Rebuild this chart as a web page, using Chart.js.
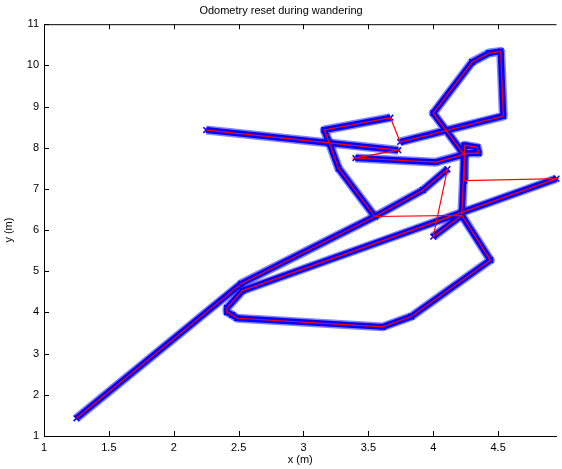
<!DOCTYPE html>
<html>
<head>
<meta charset="utf-8">
<script src="https://cdn.jsdelivr.net/npm/chart.js@4"></script>
<style>
  body { margin: 0; background: #fff; }
</style>
</head>
<body>
<canvas id="myChart" width="562" height="469"></canvas>
<script>
// robot path, in metres, in the order it was logged
const pathX = [1.25, 2.52, 3.55, 3.92, 4.11, 4.00, 4.22, 4.24, 4.00, 4.30, 4.43, 4.52, 4.54, 3.745,
  3.67, 3.16, 3.20, 3.27, 3.55, 4.22, 4.44, 3.83, 3.61, 2.49, 2.45, 2.41, 2.41, 2.53, 4.95,
  4.24, 4.24, 4.34, 4.35, 4.28, 4.22, 4.02, 3.40, 3.73, 2.25];
const pathY = [1.43, 4.70, 6.33, 6.97, 7.48, 5.84, 6.36, 7.82, 8.84, 10.08, 10.30, 10.34, 8.77, 8.14,
  8.73, 8.43, 8.11, 7.50, 6.33, 6.36, 5.27, 3.90, 3.65, 3.86, 3.94, 4.01, 4.11, 4.53, 7.25,
  7.20, 8.06, 8.01, 7.87, 7.87, 7.82, 7.65, 7.75, 7.94, 8.43];
// segments starting at these indices are odometry resets (jumps)
const resetAt = [4, 13, 18, 28, 36];

const xTicks = [1, 1.5, 2, 2.5, 3, 3.5, 4, 4.5];
const yTicks = [1, 2, 3, 4, 5, 6, 7, 8, 9, 10, 11];

const points = pathX.map((x, i) => ({ x: x, y: pathY[i] }));
const hideJump = (color) => (c) => resetAt.includes(c.p0DataIndex) ? 'rgba(0,0,0,0)' : color;

const font = { family: "'Liberation Sans', Arial, sans-serif", size: 11 };

// MATLAB style box: top edge plus inward ticks
const boxTicks = {
  id: 'boxTicks',
  afterDraw(chart) {
    const { ctx, chartArea: a, scales } = chart;
    ctx.save();
    ctx.strokeStyle = '#000';
    ctx.lineWidth = 1;
    ctx.beginPath();
    ctx.moveTo(a.left, a.top + 0.5);
    ctx.lineTo(a.right, a.top + 0.5);
    xTicks.forEach(v => {
      const px = Math.round(scales.x.getPixelForValue(v)) + 0.5;
      ctx.moveTo(px, a.bottom); ctx.lineTo(px, a.bottom - 5);
      ctx.moveTo(px, a.top); ctx.lineTo(px, a.top + 5);
    });
    yTicks.forEach(v => {
      const py = Math.round(scales.y.getPixelForValue(v)) + 0.5;
      ctx.moveTo(a.left, py); ctx.lineTo(a.left + 5, py);
    });
    ctx.stroke();
    ctx.restore();
  }
};

new Chart(document.getElementById('myChart'), {
  type: 'scatter',
  data: {
    datasets: [
      {
        // red odometry trace, on top
        data: points,
        order: 0,
        showLine: true,
        borderColor: '#ff0000',
        borderWidth: 1.2,
        pointRadius: 0,
        clip: 6,
      },
      {
        data: points,
        order: 1,
        showLine: true,
        borderColor: '#0000ff',
        borderWidth: 6,
        borderJoinStyle: 'round',
        segment: { borderColor: hideJump('#0000ff') },
        pointStyle: 'crossRot',
        pointRadius: 4,
        pointBorderColor: '#0000ff',
        pointBorderWidth: 1.5,
        clip: 6,
      },
      {
        data: points,
        order: 2,
        showLine: true,
        borderColor: 'rgba(50,50,255,0.6)',
        borderWidth: 9,
        borderJoinStyle: 'round',
        segment: { borderColor: hideJump('rgba(50,50,255,0.6)') },
        pointRadius: 0,
        clip: 6,
      },
    ],
  },
  options: {
    responsive: false,
    animation: false,
    layout: { padding: 0 },
    plugins: {
      legend: { display: false },
      tooltip: { enabled: false },
      title: {
        display: true,
        text: 'Odometry reset during wandering',
        color: '#000',
        font: { ...font, weight: 'normal' },
        padding: { top: 4, bottom: 7 },
      },
    },
    scales: {
      x: {
        type: 'linear',
        min: 1,
        max: 4.95,
        afterFit: s => { s.height = 33; },
        afterBuildTicks: s => { s.ticks = xTicks.map(v => ({ value: v })); },
        grid: { display: false, drawTicks: false },
        border: { display: true, color: '#000', width: 1 },
        ticks: { color: '#000', font: font, padding: 5, maxRotation: 0, callback: v => String(v) },
        title: { display: true, text: 'x (m)', color: '#000', font: font, padding: { top: 0, bottom: 2 } },
      },
      y: {
        type: 'linear',
        min: 1,
        max: 11,
        afterFit: s => { s.width = 44; },
        afterBuildTicks: s => { s.ticks = yTicks.map(v => ({ value: v })); },
        grid: { display: false, drawTicks: false },
        border: { display: true, color: '#000', width: 1 },
        ticks: { color: '#000', font: font, padding: 5, callback: v => String(v) },
        title: { display: true, text: 'y (m)', color: '#000', font: font, padding: { top: 2, bottom: 0 } },
      },
    },
  },
  plugins: [boxTicks],
});
</script>
</body>
</html>
